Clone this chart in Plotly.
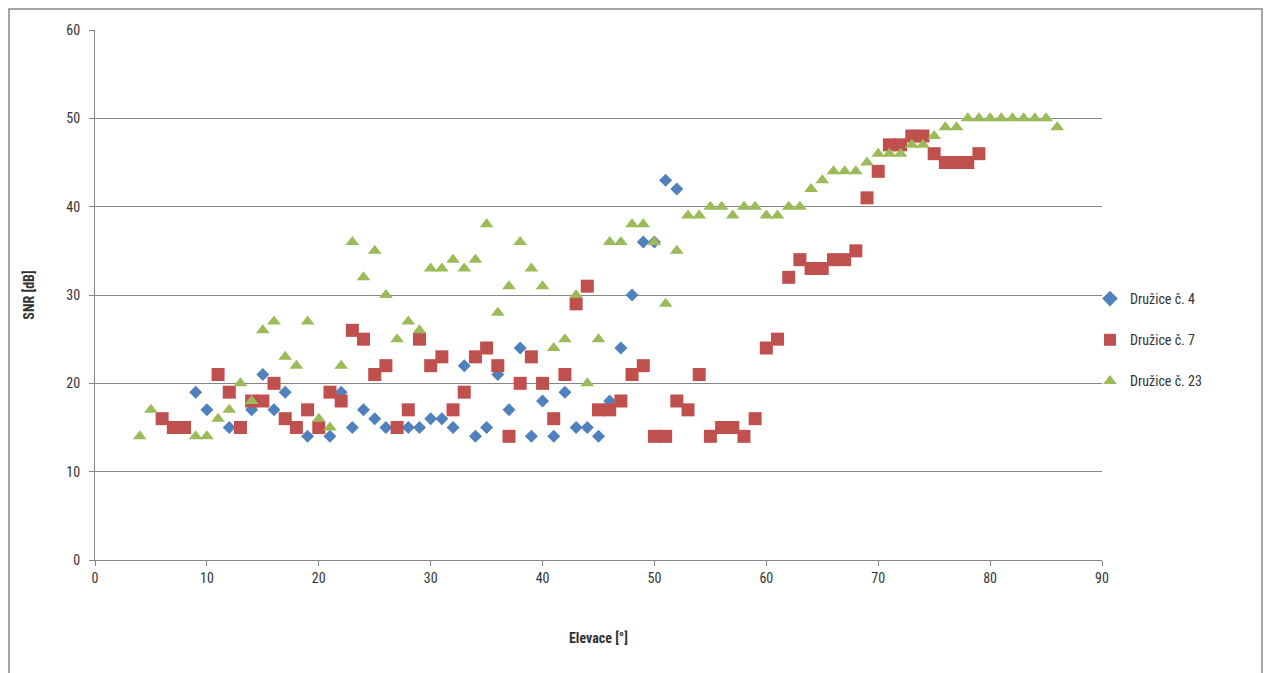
import plotly.graph_objects as go

# Družice č. 4
x4 = [9, 10, 12, 14, 15, 16, 17, 19, 21, 22, 23, 24, 25, 26, 27, 28, 29, 30, 31, 32, 33, 34, 35, 36, 37, 38,
      39, 40, 41, 42, 43, 44, 45, 46, 47, 48, 49, 50, 51, 52]
y4 = [19, 17, 15, 17, 21, 17, 19, 14, 14, 19, 15, 17, 16, 15, 15, 15, 15, 16, 16, 15, 22, 14, 15, 21, 17, 24,
      14, 18, 14, 19, 15, 15, 14, 18, 24, 30, 36, 36, 43, 42]

# Družice č. 7
x7 = [6, 7, 8, 11, 12, 13, 14, 15, 16, 17, 18, 19, 20, 21, 22, 23, 24, 25, 26, 27, 28, 29, 30, 31, 32, 33, 34,
      35, 36, 37, 38, 39, 40, 41, 42, 43, 44, 45, 46, 47, 48, 49, 50, 51, 52, 53, 54, 55, 56, 57, 58, 59, 60,
      61, 62, 63, 64, 65, 66, 67, 68, 69, 70, 71, 72, 73, 74, 75, 76, 77, 78, 79]
y7 = [16, 15, 15, 21, 19, 15, 18, 18, 20, 16, 15, 17, 15, 19, 18, 26, 25, 21, 22, 15, 17, 25, 22, 23, 17, 19, 23,
      24, 22, 14, 20, 23, 20, 16, 21, 29, 31, 17, 17, 18, 21, 22, 14, 14, 18, 17, 21, 14, 15, 15, 14, 16, 24,
      25, 32, 34, 33, 33, 34, 34, 35, 41, 44, 47, 47, 48, 48, 46, 45, 45, 45, 46]

# Družice č. 23
x23 = [4, 5, 9, 10, 11, 12, 13, 14, 15, 16, 17, 18, 19, 20, 21, 22, 23, 24, 25, 26, 27, 28, 29, 30, 31, 32, 33,
       34, 35, 36, 37, 38, 39, 40, 41, 42, 43, 44, 45, 46, 47, 48, 49, 50, 51, 52, 53, 54, 55, 56, 57, 58, 59,
       60, 61, 62, 63, 64, 65, 66, 67, 68, 69, 70, 71, 72, 73, 74, 75, 76, 77, 78, 79, 80, 81, 82, 83, 84, 85, 86]
y23 = [14, 17, 14, 14, 16, 17, 20, 18, 26, 27, 23, 22, 27, 16, 15, 22, 36, 32, 35, 30, 25, 27, 26, 33, 33, 34, 33,
       34, 38, 28, 31, 36, 33, 31, 24, 25, 30, 20, 25, 36, 36, 38, 38, 36, 29, 35, 39, 39, 40, 40, 39, 40, 40,
       39, 39, 40, 40, 42, 43, 44, 44, 44, 45, 46, 46, 46, 47, 47, 48, 49, 49, 50, 50, 50, 50, 50, 50, 50, 50, 49]

names = ["Družice č. 4", "Družice č. 7", "Družice č. 23"]
colors = ["#4F81BD", "#C0504D", "#9BBB59"]
symbols = ["diamond", "square", "triangle-up"]
sizes = [10, 13, 12]

FONT = "Liberation Sans Narrow, Arial Narrow, Roboto Condensed, Open Sans, sans-serif"
TXT = "#333333"
fig = go.Figure()
for i, (xs, ys) in enumerate([(x4, y4), (x7, y7), (x23, y23)]):
    fig.add_trace(go.Scatter(
        x=xs, y=ys, mode="markers", name=names[i], legendgroup=names[i],
        marker=dict(symbol=symbols[i], color=colors[i], size=sizes[i], line=dict(width=0)),
    ))

# page is offset by the 8px body margin
OFF = 8
W, H = 1271 - OFF, 673 - OFF
L, T = 95 - OFF, 30 - OFF
R = W - (1102 - OFF)
B = H - (560 - OFF)
pw, ph = W - L - R, H - T - B
bottom_fig = 560 - OFF

fig.update_layout(
    width=W, height=H,
    margin=dict(l=L, r=R, t=T, b=B),
    paper_bgcolor="white", plot_bgcolor="white",
    font=dict(family=FONT, size=14, color=TXT),
    showlegend=True,
    legend=dict(x=(1090 - 95) / pw, y=(560 - 340) / ph, xanchor="left", yanchor="middle",
                font=dict(family=FONT, size=14, color=TXT), tracegroupgap=20,
                itemsizing="constant", bgcolor="rgba(0,0,0,0)"),
    xaxis=dict(range=[0, 90], dtick=10, tick0=0, showgrid=False, zeroline=False,
               showline=True, linecolor="#868686", linewidth=1,
               ticks="outside", ticklen=5, tickcolor="#868686",
               tickfont=dict(family=FONT, size=14, color=TXT),
               title=dict(text="<b>Elevace [°]</b>", font=dict(family=FONT, size=14, color=TXT), standoff=48)),
    yaxis=dict(range=[0, 60], dtick=10, tick0=0, showgrid=True, gridcolor="#868686", gridwidth=1,
               zeroline=False, showline=True, linecolor="#868686", linewidth=1,
               ticks="outside", ticklen=5, tickcolor="#868686", ticklabelstandoff=6,
               tickfont=dict(family=FONT, size=14, color=TXT),
               title=dict(text="<b>SNR [dB]</b>", font=dict(family=FONT, size=14, color=TXT), standoff=28)),
    shapes=[dict(type="rect", xref="paper", yref="paper",
                 x0=(1 - L) / pw, x1=(1262 - 95) / pw,
                 y0=(bottom_fig - (H + 5)) / ph, y1=(bottom_fig - 1) / ph,
                 line=dict(color="#888888", width=1.5), fillcolor="rgba(0,0,0,0)", layer="below")],
)

fig.write_html("out.html")
